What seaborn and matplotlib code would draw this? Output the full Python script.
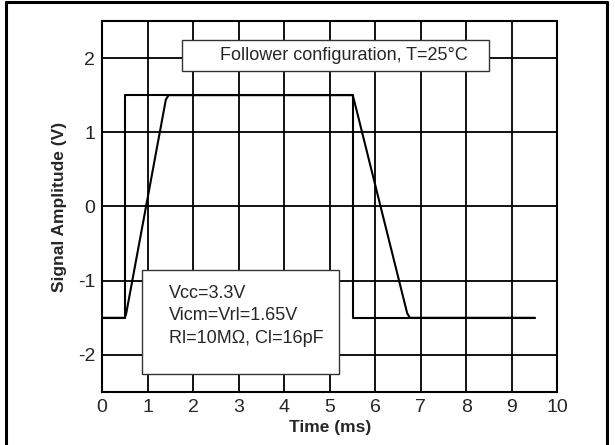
import numpy as np
import pandas as pd
import matplotlib
matplotlib.use("Agg")
import matplotlib.pyplot as plt
from matplotlib.patches import Rectangle
import seaborn as sns

# input square wave (V) vs time (ms)
in_time = [0.0, 0.5, 0.5, 5.5, 5.5, 9.5]
in_volt = [-1.5, -1.5, 1.5, 1.5, -1.5, -1.5]

# follower output (slew limited)
out_time = [0.0, 0.5, 0.53, 1.40, 1.46, 5.5, 5.53, 6.70, 6.76, 9.5]
out_volt = [-1.5, -1.5, -1.44, 1.44, 1.5, 1.5, 1.44, -1.44, -1.5, -1.5]

x_ticks = list(range(0, 11))
y_ticks = [-2, -1, 0, 1, 2]
title_txt = "Follower configuration, T=25°C"
cond_lines = ["Vcc=3.3V", "Vicm=Vrl=1.65V", "Rl=10M\u03a9, Cl=16pF"]

sns.set_style("white")
plt.rcParams["font.family"] = ["Liberation Sans", "DejaVu Sans"]
plt.rcParams["axes.unicode_minus"] = False

df_in = pd.DataFrame({"t": in_time, "v": in_volt})
df_out = pd.DataFrame({"t": out_time, "v": out_volt})

fig = plt.figure(figsize=(6.15, 4.45), dpi=100)
ax = fig.add_axes([0.166, 0.119, 0.7405, 0.834])

sns.lineplot(data=df_in, x="t", y="v", sort=False, estimator=None,
             color="black", lw=1.5, ax=ax, zorder=3)
sns.lineplot(data=df_out, x="t", y="v", sort=False, estimator=None,
             color="black", lw=1.5, ax=ax, zorder=3)

ax.set_xlim(0, 10)
ax.set_ylim(-2.5, 2.5)
ax.set_xticks(x_ticks)
ax.set_yticks(y_ticks)
ax.grid(True, which="major", color="black", lw=1.3)
ax.tick_params(axis="both", which="major", direction="in", length=6, width=2,
               labelsize=14, pad=5, color="black")
for s in ax.spines.values():
    s.set_color("black")
    s.set_linewidth(1.5)
ax.set_xlabel("Time (ms)", fontsize=12.5, fontweight="bold", labelpad=3)
ax.set_ylabel("Signal Amplitude (V)", fontsize=12.5, fontweight="bold", labelpad=8)

# title box
ax.add_patch(Rectangle((1.76, 1.82), 6.73, 0.42, facecolor="white",
                       edgecolor="#333333", lw=1.0, zorder=4))
ax.text(5.3, 2.03, title_txt, ha="center", va="center", fontsize=13, zorder=5)

# conditions box
ax.add_patch(Rectangle((0.886, -2.255), 4.314, 1.402, facecolor="white",
                       edgecolor="#333333", lw=1.0, zorder=4))
for i, line in enumerate(cond_lines):
    ax.text(1.46, -1.17 - 0.305 * i, line, ha="left", va="center",
            fontsize=13, zorder=5)

# outer frame
fig.add_artist(plt.Line2D([0.01, 0.01], [0.0, 0.995], color="black", lw=2.2,
                          transform=fig.transFigure))
fig.add_artist(plt.Line2D([0.01, 0.987], [0.995, 0.995], color="black", lw=2.2,
                          transform=fig.transFigure))
fig.add_artist(plt.Line2D([0.987, 0.987], [0.0, 0.995], color="black", lw=2.2,
                          transform=fig.transFigure))

fig.savefig("out.png", dpi=100)
